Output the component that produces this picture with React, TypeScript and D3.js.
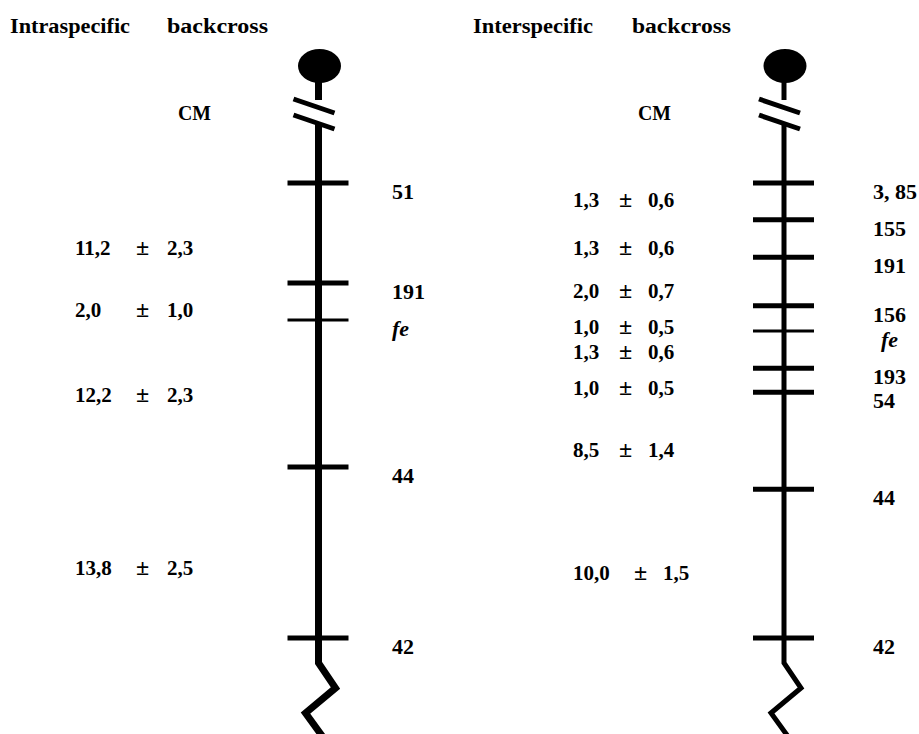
import React, { useEffect, useRef } from 'react';
import * as d3 from 'd3';

// Intraspecific backcross
const intraMarkers = ['51', '191', 'fe', '44', '42'];
const intraMarkerPos = [0, 22.0, 30.1, 62.4, 100];
const intraDistances = ['11,2', '2,0', '12,2', '13,8'];
const intraErrors = ['2,3', '1,0', '2,3', '2,5'];
const intraDistancePos = [14.3, 27.9, 46.6, 84.6];

// Interspecific backcross
const interMarkers = ['3, 85', '155', '191', '156', 'fe', '193', '54', '44', '42'];
const interMarkerPos = [0, 8.1, 16.3, 27.0, 32.5, 40.7, 46.0, 67.3, 100];
const interDistances = ['1,3', '1,3', '2,0', '1,0', '1,3', '1,0', '8,5', '10,0'];
const interErrors = ['0,6', '0,6', '0,7', '0,5', '0,6', '0,5', '1,4', '1,5'];
const interDistancePos = [3.7, 14.3, 23.7, 31.6, 37.1, 45.1, 58.7, 85.7];

const W = 919;
const H = 734;
const FONT = '"Liberation Serif", "Times New Roman", serif';

interface Panel {
  title: string;
  titleX: number;
  titleW: number;
  crossX: number;
  crossW: number;
  cmX: number;
  axisX: number;
  axisW: number;
  labelX: number;
  valX: number;
  pmX: number;
  errX: number;
  markers: string[];
  markerPos: number[];
  distances: string[];
  errors: string[];
  distancePos: number[];
}

const panels: Panel[] = [
  {
    title: 'Intraspecific', titleX: 10, titleW: 120, crossX: 167, crossW: 101, cmX: 178,
    axisX: 318.5, axisW: 7, labelX: 392, valX: 75, pmX: 136, errX: 167,
    markers: intraMarkers, markerPos: intraMarkerPos,
    distances: intraDistances, errors: intraErrors, distancePos: intraDistancePos,
  },
  {
    title: 'Interspecific', titleX: 473, titleW: 120, crossX: 632, crossW: 99, cmX: 638,
    axisX: 784, axisW: 5, labelX: 873, valX: 573, pmX: 619, errX: 648,
    markers: interMarkers, markerPos: interMarkerPos,
    distances: interDistances, errors: interErrors, distancePos: interDistancePos,
  },
];

export default function App() {
  const ref = useRef<SVGSVGElement>(null);

  useEffect(() => {
    const svg = d3.select(ref.current);
    svg.selectAll('*').remove();

    // schematic map position -> pixel
    const y = d3.scaleLinear().domain([0, 100]).range([183, 638]);
    const line = d3.line<[number, number]>();

    panels.forEach(p => {
      const g = svg.append('g');
      const x0 = p.axisX;

      // titles
      g.append('text').attr('x', p.titleX).attr('y', 33)
        .attr('textLength', p.titleW).attr('lengthAdjust', 'spacingAndGlyphs')
        .style('font', `bold 20px ${FONT}`).text(p.title);
      g.append('text').attr('x', p.crossX).attr('y', 33)
        .attr('textLength', p.crossW).attr('lengthAdjust', 'spacingAndGlyphs')
        .style('font', `bold 20px ${FONT}`).text('backcross');
      g.append('text').attr('x', p.cmX).attr('y', 120)
        .attr('textLength', 33).attr('lengthAdjust', 'spacingAndGlyphs')
        .style('font', `bold 20px ${FONT}`).text('CM');

      // centromere and stem
      g.append('ellipse').attr('cx', x0 + 1).attr('cy', 66).attr('rx', 21.5).attr('ry', 17).attr('fill', '#000');
      g.append('line').attr('x1', x0).attr('x2', x0).attr('y1', 80).attr('y2', 100)
        .attr('stroke', '#000').attr('stroke-width', p.axisW);

      // break marks
      [0, 16].forEach(off => {
        g.append('line').attr('x1', x0 - 25).attr('y1', 99 + off).attr('x2', x0 + 16).attr('y2', 113 + off)
          .attr('stroke', '#000').attr('stroke-width', 5);
      });

      // chromosome body with zigzag end
      g.append('path')
        .attr('d', line([[x0, 124], [x0, 663], [x0 + 17, 688], [x0 - 13, 713], [x0 + 8, 742]]))
        .attr('fill', 'none').attr('stroke', '#000').attr('stroke-width', p.axisW)
        .attr('stroke-linejoin', 'miter');

      // marker ticks and labels
      p.markers.forEach((m, i) => {
        const yy = y(p.markerPos[i]);
        g.append('line').attr('x1', x0 - 31).attr('x2', x0 + 30).attr('y1', yy).attr('y2', yy)
          .attr('stroke', '#000').attr('stroke-width', m === 'fe' ? 3 : 5);
        g.append('text').attr('x', m === 'fe' ? p.labelX + (i > 3 ? 8 : 0) : p.labelX).attr('y', yy + 16)
          .style('font', `${m === 'fe' ? 'italic ' : ''}bold 22px ${FONT}`)
          .text(m);
      });

      // distances
      p.distances.forEach((d, i) => {
        const yy = y(p.distancePos[i]) + 7;
        const shift = d.length > 3 && p.valX > 400 ? 15 : 0;
        g.append('text').attr('x', p.valX).attr('y', yy).style('font', `bold 21px ${FONT}`).text(d);
        g.append('text').attr('x', p.pmX + shift).attr('y', yy).style('font', `bold 24px ${FONT}`).text('±');
        g.append('text').attr('x', p.errX + shift).attr('y', yy).style('font', `bold 21px ${FONT}`).text(p.errors[i]);
      });
    });
  }, []);

  return (
    <div style={{ position: 'absolute', left: 0, top: 0, background: '#fff' }}>
      <svg ref={ref} width={W} height={H} style={{ display: 'block' }} />
    </div>
  );
}
